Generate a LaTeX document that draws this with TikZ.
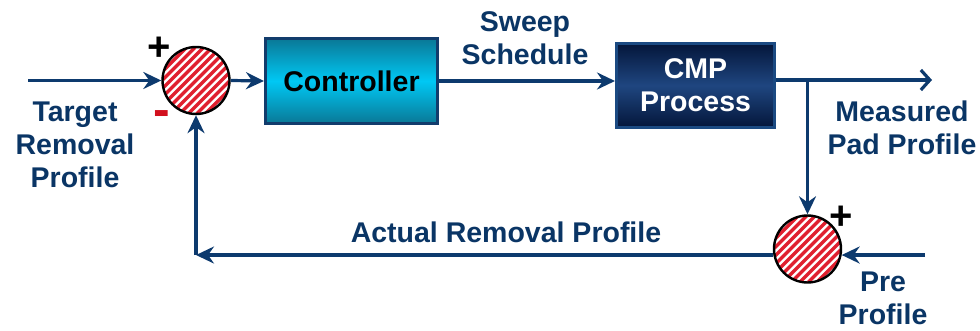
\documentclass[tikz,border=0pt]{standalone}
\usepackage{fontspec}
\setmainfont{Liberation Sans}
\usetikzlibrary{arrows.meta,calc}

\definecolor{navy}{HTML}{0D3A6E}
\definecolor{navytext}{HTML}{0A3565}
\definecolor{hatchred}{HTML}{E0202F}
\definecolor{ctrlborder}{HTML}{123C6C}
\definecolor{cmpborder}{HTML}{1B4A82}
\definecolor{minusred}{HTML}{D2101E}
\definecolor{ctrledge}{HTML}{0A7896}
\definecolor{ctrlmid}{HTML}{00C8F4}
\definecolor{cmpedge}{HTML}{04163A}
\definecolor{cmpmid}{HTML}{1F4680}

\tikzset{
  flow/.style={draw=navy, line width=3.2pt},
  tip/.style={-{Stealth[length=18pt,width=17pt,inset=6pt]}},
  opentip/.style={-{Straight Barb[length=9pt,width=20pt]}},
  lbl/.style={text=navytext, font=\fontsize{28.5}{33}\selectfont\bfseries,
    align=center, inner sep=0pt},
  hatched/.style={path picture={
      \foreach \k in {-10,...,10}
        \draw[hatchred, line width=3.4pt]
          ($(path picture bounding box.center)+(\k*8.5pt-40pt,-40pt)$) -- ++(80pt,80pt);
    }},
  sumnode/.style={circle, minimum size=67pt, inner sep=0pt, fill=white,
    hatched, draw=black, line width=2.4pt},
  sign/.style={inner sep=0pt, font=\fontsize{40}{40}\selectfont\bfseries},
  block/.style={line width=3pt, inner sep=0pt,
    font=\fontsize{28.5}{33}\selectfont\bfseries, align=center},
}

\begin{document}
\begin{tikzpicture}[x=1pt,y=-1pt]
  \useasboundingbox (0,0) rectangle (980,331);

  % summing junctions
  \node[sumnode] (sum1) at (196,80.5) {};
  \node[sumnode] (sum2) at (807.5,249) {};

  % blocks
  \node[block, draw=ctrlborder, minimum width=172pt, minimum height=85pt,
        top color=ctrledge, bottom color=ctrledge, middle color=ctrlmid,
        text=black] (ctrl) at (351.5,81) {Controller};
  \node[block, draw=cmpborder, minimum width=158pt, minimum height=84pt,
        top color=cmpedge, bottom color=cmpedge, middle color=cmpmid,
        text=white] (cmp) at (695.5,85.5) {CMP\\Process};

  % signs at the junctions
  \node[sign, text=black] (p1) at (159.5,49) {+};
  \node[sign, text=minusred, font=\fontsize{50}{50}\selectfont\bfseries] (m1) at (161.5,119) {-};
  \node[sign, text=black] (p2) at (841,217.5) {+};

  % labels
  \node[lbl] (target) at (75,145) {Target\\Removal\\Profile};
  \node[lbl] (sweep) at (525,38) {Sweep\\Schedule};
  \node[lbl] (meas) at (902,128) {Measured\\Pad Profile};
  \node[lbl] (actual) at (506,232.5) {Actual Removal Profile};
  \node[lbl] (prelbl) at (883,298.5) {Pre\\Profile};

  % free ends and corners
  \coordinate (in) at (28,80.5);
  \coordinate (out) at (932,80);
  \coordinate (br) at (sum2.north |- out);
  \coordinate (pre) at (925,0 |- sum2.350);
  \coordinate (corner) at (sum1.south |- sum2.190);

  % forward path
  \draw[flow,tip] (in) -- (sum1.west);
  \draw[flow,tip] (sum1.east) -- (ctrl.west);
  \draw[flow,tip] (ctrl.east) -- (ctrl.east -| cmp.west);
  \draw[flow,opentip] (cmp.east |- out) -- (out);
  \draw[flow,tip] (br) -- (sum2.north);

  % pre profile input and feedback path
  \draw[flow,tip] (pre) -- (sum2.350);
  \draw[flow,tip] (corner) -- (sum1.south);
  \draw[flow,tip] (sum2.190) -- (corner);
\end{tikzpicture}
\end{document}
